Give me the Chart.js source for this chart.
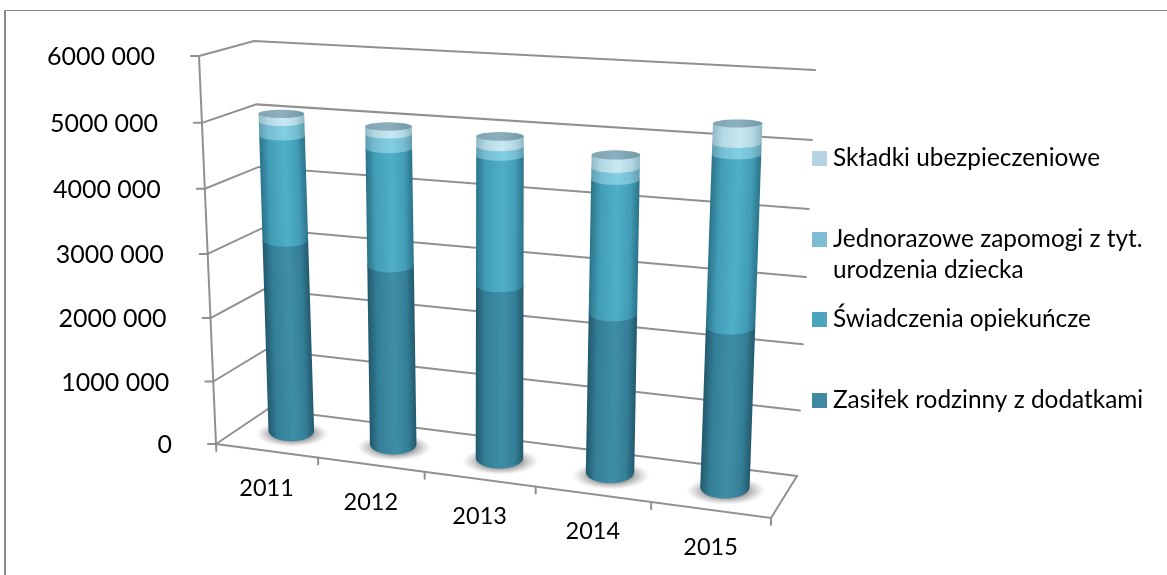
<!DOCTYPE html>
<html>
<head>
<meta charset="utf-8">
<title>Wydatki</title>
<script src="https://cdn.jsdelivr.net/npm/chart.js@4"></script>
<style>
    html, body { margin: 0; padding: 0; background: #fff; }
    canvas { display: block; }
</style>
</head>
<body>
<canvas id="chart" width="1167" height="575"></canvas>
<script>
const years = ['2011', '2012', '2013', '2014', '2015'];
const zasilek = [3060000, 2820000, 2680000, 2420000, 2400000];
const swiadczenia = [1620000, 1790000, 1940000, 1980000, 2485000];
const zapomogi = [220000, 215000, 140000, 170000, 160000];
const skladki = [120000, 115000, 150000, 190000, 285000];

const valueFont = '25px Lato';
const yearFont = '23.5px Lato';
const legendFont = '24.4px Lato';

// naroza scian wykresu 3D
const frontLeft = { bottom: [216, 444], top: [199, 56] };
const backLeft = { bottom: [268, 409], top: [254, 41] };
const backRight = { bottom: [797, 476], top: [815, 70] };
const frontRight = [771, 518];
// plaszczyzna w ktorej stoja walce
const barPlane = { bl: [242, 424.5], br: [784, 495], tl: [227, 46.5], tr: [802, 79.5] };

const legendRows = [
    { dataset: 3, box: 151, lines: [166] },
    { dataset: 2, box: 232, lines: [246.7, 278] },
    { dataset: 1, box: 312, lines: [326.7] },
    { dataset: 0, box: 393, lines: [407.7] }
];

const lerp = (a, b, t) => [a[0] + (b[0] - a[0]) * t, a[1] + (b[1] - a[1]) * t];
// lekka perspektywa
const bendU = u => u * (0.9 + 0.1 * u);
const bendV = v => v * (0.96 + 0.04 * v);

function fracX(chart, px) {
    const a = chart.chartArea;
    return (px - a.left) / (a.right - a.left);
}

function fracY(chart, py) {
    const a = chart.chartArea;
    return (a.bottom - py) / (a.bottom - a.top);
}

function planePoint(u, v) {
    const b = lerp(barPlane.bl, barPlane.br, bendU(u));
    const t = lerp(barPlane.tl, barPlane.tr, bendU(u));
    return lerp(b, t, bendV(v));
}

function line(ctx, pts) {
    ctx.beginPath();
    pts.forEach((p, i) => i ? ctx.lineTo(p[0], p[1]) : ctx.moveTo(p[0], p[1]));
    ctx.stroke();
}

function drawFrame(ctx) {
    // ramka: tylko lewa i gorna krawedz
    ctx.save();
    ctx.fillStyle = '#8a8a8a';
    ctx.fillRect(4, 10, 2, 565);
    ctx.fillRect(4, 10, 1163, 1);
    ctx.restore();
}

function drawWalls(chart) {
    const ctx = chart.ctx;
    const yScale = chart.scales.y;
    const xScale = chart.scales.x;
    ctx.save();
    ctx.strokeStyle = '#909090';
    ctx.lineWidth = 2;
    ctx.lineCap = 'round';

    yScale.ticks.forEach(tick => {
        const v = bendV(fracY(chart, yScale.getPixelForValue(tick.value)));
        const f = lerp(frontLeft.bottom, frontLeft.top, v);
        const bl = lerp(backLeft.bottom, backLeft.top, v);
        const br = lerp(backRight.bottom, backRight.top, v);
        line(ctx, [f, bl, br]);
        line(ctx, [[f[0] - 8, f[1]], f]);
    });

    // os pionowa i podloga
    const axisEnd = [frontLeft.bottom[0] + 0.3, frontLeft.bottom[1] + 7];
    line(ctx, [frontLeft.top, axisEnd]);
    line(ctx, [frontLeft.bottom, frontRight, backRight.bottom]);
    line(ctx, [frontRight, [frontRight[0], frontRight[1] + 7]]);

    // kreski na osi lat, miedzy kategoriami
    for (let i = 1; i < years.length; i++) {
        const u = (fracX(chart, xScale.getPixelForTick(i - 1)) + fracX(chart, xScale.getPixelForTick(i))) / 2;
        const p = lerp(frontLeft.bottom, frontRight, bendU(u));
        line(ctx, [p, [p[0], p[1] + 7]]);
    }
    ctx.restore();
}

const shades = [
    { edge: '#22596d', side: '#347f97', mid: '#3f8ea7' },
    { edge: '#2a7389', side: '#429db6', mid: '#4fafc7' },
    { edge: '#5f9db0', side: '#76bdd2', mid: '#82cfe2' },
    { edge: '#8fb7c4', side: '#b4d8e3', mid: '#c8e9f2' }
];

// gradient prostopadly do pochylonej osi walca
function cylinderFill(ctx, p0, p1, rx, shade) {
    const dx = p1[0] - p0[0];
    const dy = p1[1] - p0[1];
    const len = Math.hypot(dx, dy) || 1;
    const nx = -dy / len * rx;
    const ny = dx / len * rx;
    const mx = (p0[0] + p1[0]) / 2;
    const my = (p0[1] + p1[1]) / 2;
    const g = ctx.createLinearGradient(mx - nx, my - ny, mx + nx, my + ny);
    g.addColorStop(0, shade.edge);
    g.addColorStop(0.2, shade.side);
    g.addColorStop(0.55, shade.mid);
    g.addColorStop(0.82, shade.side);
    g.addColorStop(1, shade.edge);
    return g;
}

function ellipseRatio(v) {
    return 0.45 - 0.325 * v;
}

function drawBars(chart) {
    const ctx = chart.ctx;
    const count = years.length;
    const metas = chart.data.datasets.map((d, i) => chart.getDatasetMeta(i));
    ctx.save();
    for (let i = 0; i < count; i++) {
        const first = metas[0].data[i];
        const u = fracX(chart, first.x);
        const rx = first.width / 2 * (0.96 + 0.1 * u);
        const foot = planePoint(u, 0);
        const footRy = rx * ellipseRatio(0);

        // cien pod walcem
        ctx.save();
        ctx.translate(foot[0] + 1, foot[1] + footRy * 0.3);
        ctx.scale(1, 0.36);
        const sh = ctx.createRadialGradient(0, 0, rx * 0.85, 0, 0, rx * 1.6);
        sh.addColorStop(0, 'rgba(125,125,125,0.75)');
        sh.addColorStop(1, 'rgba(170,170,170,0)');
        ctx.fillStyle = sh;
        ctx.beginPath();
        ctx.arc(0, 0, rx * 1.6, 0, Math.PI * 2);
        ctx.fill();
        ctx.restore();

        let topPoint = foot;
        let topRy = footRy;
        metas.forEach((meta, s) => {
            const el = meta.data[i];
            const vBase = fracY(chart, el.base);
            const vTop = fracY(chart, el.y);
            const p0 = planePoint(u, vBase);
            const p1 = planePoint(u, vTop);
            const ry0 = rx * ellipseRatio(vBase);
            const ry1 = rx * ellipseRatio(vTop);
            ctx.fillStyle = cylinderFill(ctx, p0, p1, rx, shades[s]);
            ctx.beginPath();
            ctx.moveTo(p1[0] - rx, p1[1]);
            ctx.lineTo(p0[0] - rx, p0[1]);
            ctx.ellipse(p0[0], p0[1], rx, ry0, 0, Math.PI, 0, true);
            ctx.lineTo(p1[0] + rx, p1[1]);
            ctx.ellipse(p1[0], p1[1], rx, ry1, 0, 0, Math.PI, true);
            ctx.closePath();
            ctx.fill();
            topPoint = p1;
            topRy = ry1;
        });

        // wierzch walca
        const capFill = ctx.createLinearGradient(topPoint[0] - rx, 0, topPoint[0] + rx, 0);
        capFill.addColorStop(0, '#7fa3b1');
        capFill.addColorStop(0.5, '#8cb0bd');
        capFill.addColorStop(1, '#7297a6');
        ctx.fillStyle = capFill;
        ctx.beginPath();
        ctx.ellipse(topPoint[0], topPoint[1], rx, topRy, 0, 0, Math.PI * 2);
        ctx.fill();
    }
    ctx.restore();
}

function drawAxisText(chart) {
    const ctx = chart.ctx;
    const yScale = chart.scales.y;
    const xScale = chart.scales.x;
    ctx.save();
    ctx.fillStyle = '#000';

    ctx.font = valueFont;
    ctx.textAlign = 'right';
    ctx.textBaseline = 'middle';
    yScale.ticks.forEach(tick => {
        const v = bendV(fracY(chart, yScale.getPixelForValue(tick.value)));
        const f = lerp(frontLeft.bottom, frontLeft.top, v);
        ctx.fillText(tick.label, f[0] - 44, f[1] + 1);
    });

    ctx.font = yearFont;
    ctx.textAlign = 'center';
    ctx.textBaseline = 'alphabetic';
    xScale.getLabels().forEach((label, i) => {
        const p = lerp(frontLeft.bottom, frontRight, bendU(fracX(chart, xScale.getPixelForTick(i))));
        ctx.fillText(label, p[0], p[1] + 45);
    });
    ctx.restore();
}

function drawLegend(chart) {
    const ctx = chart.ctx;
    ctx.save();
    ctx.font = legendFont;
    ctx.textAlign = 'left';
    ctx.textBaseline = 'alphabetic';
    legendRows.forEach(row => {
        const ds = chart.data.datasets[row.dataset];
        ctx.fillStyle = ds.backgroundColor;
        ctx.fillRect(812, row.box, 15, 15);
        ctx.fillStyle = '#000';
        ds.label.split('\n').forEach((text, i) => ctx.fillText(text, 833, row.lines[i]));
    });
    ctx.restore();
}

const cylinders3d = {
    id: 'cylinders3d',
    beforeDatasetsDraw(chart) {
        drawFrame(chart.ctx);
        drawWalls(chart);
        drawBars(chart);
        drawAxisText(chart);
        drawLegend(chart);
        return false; // zwykle slupki sa niepotrzebne
    }
};

new Chart(document.getElementById('chart').getContext('2d'), {
    type: 'bar',
    data: {
        labels: years,
        datasets: [
            { label: 'Zasiłek rodzinny z dodatkami', data: zasilek, backgroundColor: '#3f8aa0' },
            { label: 'Świadczenia opiekuńcze', data: swiadczenia, backgroundColor: '#4aa5bd' },
            { label: 'Jednorazowe zapomogi z tyt.\nurodzenia dziecka', data: zapomogi, backgroundColor: '#7ebcd2' },
            { label: 'Składki ubezpieczeniowe', data: skladki, backgroundColor: '#b5d3e0' }
        ]
    },
    plugins: [cylinders3d],
    options: {
        responsive: false,
        animation: false,
        layout: { padding: { left: 216, right: 396, top: 56, bottom: 131 } },
        barPercentage: 0.43,
        categoryPercentage: 1,
        plugins: { legend: { display: false }, tooltip: { enabled: false } },
        scales: {
            x: {
                stacked: true,
                grid: { display: false },
                border: { display: false },
                ticks: { display: false }
            },
            y: {
                stacked: true,
                min: 0,
                max: 6000000,
                grid: { display: false },
                border: { display: false },
                ticks: {
                    display: false,
                    stepSize: 1000000,
                    callback: value => String(value).replace(/(\d{3})$/, ' $1')
                }
            }
        }
    }
});
</script>
</body>
</html>
